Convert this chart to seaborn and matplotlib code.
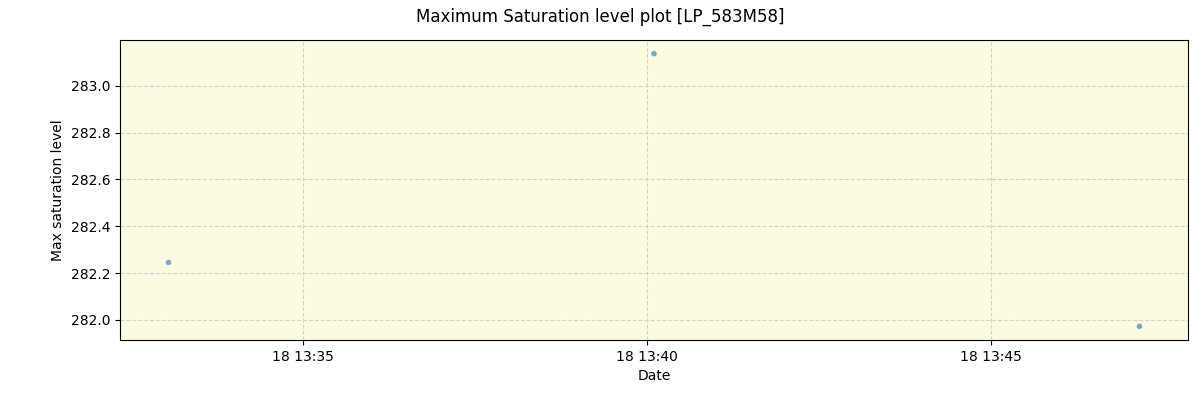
import matplotlib
matplotlib.use("Agg")
import matplotlib.pyplot as plt
import matplotlib.dates as mdates
import seaborn as sns
import pandas as pd

dates = ["2023-01-18 13:33:03", "2023-01-18 13:40:06", "2023-01-18 13:47:09"]
max_saturation = [282.245, 283.138, 281.972]

df = pd.DataFrame({"Date": pd.to_datetime(dates), "Max saturation level": max_saturation})

fig, ax = plt.subplots(figsize=(12, 4), dpi=100)
fig.subplots_adjust(left=0.1, right=0.99, top=0.9, bottom=0.15)
ax.set_facecolor("#FCFBE0")
sns.scatterplot(data=df, x="Date", y="Max saturation level", ax=ax,
                s=16, color="tab:blue", alpha=0.6, edgecolor="none")
ax.grid(True, linestyle="--", color="lightgray", linewidth=0.8)
ax.set_axisbelow(True)
ax.xaxis.set_major_locator(mdates.MinuteLocator(byminute=[35, 40, 45]))
ax.xaxis.set_major_formatter(mdates.DateFormatter("%d %H:%M"))
ax.set_xlabel("Date")
ax.set_ylabel("Max saturation level")
fig.suptitle("Maximum Saturation level plot [LP_583M58]")
fig.savefig("out.png")
